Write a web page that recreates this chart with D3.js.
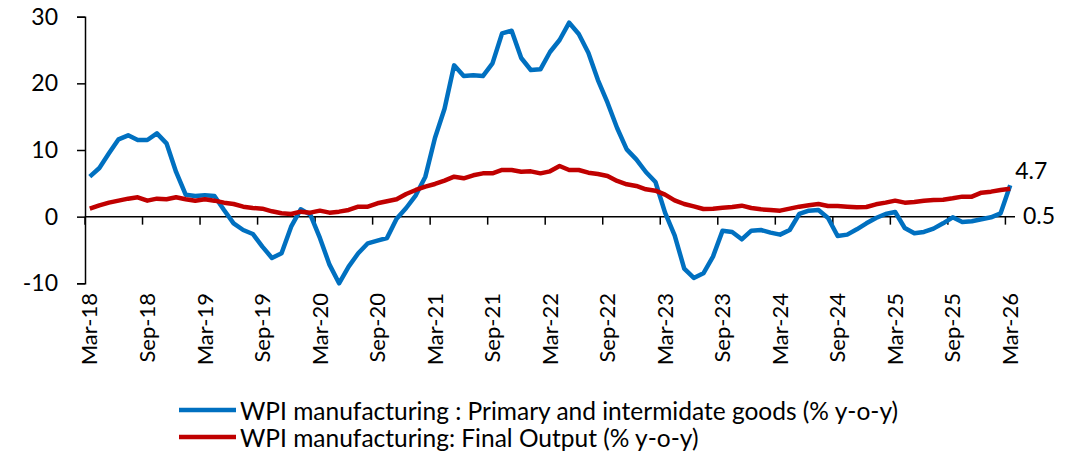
<!DOCTYPE html>
<html>
<head>
<meta charset="utf-8">
<script src="https://cdn.jsdelivr.net/npm/d3@7"></script>
<style>
  body { margin: 0; background: #fff; }
  svg { display: block; font-family: Lato, "Open Sans", sans-serif; }
</style>
</head>
<body>
<svg id="chart" width="1079" height="454"></svg>
<script>
// ---- data ----
const startMonth = new Date(Date.UTC(2018, 2, 1));   // Mar-18
const endMonth = new Date(Date.UTC(2026, 3, 1));     // exclusive -> last Mar-26
const fmt = d3.utcFormat("%b-%y");
const categories = d3.utcMonths(startMonth, endMonth).map(fmt);

const primaryIntermediate = [
  6.0, 7.3, 9.5, 11.6, 12.2, 11.5, 11.5, 12.5, 11.0, 6.7,
  3.3, 3.1, 3.2, 3.1, 1.0, -1.0, -2.0, -2.6, -4.5, -6.2,
  -5.5, -1.5, 1.1, 0.3, -3.2, -7.2, -10.0, -7.5, -5.5, -4.0,
  -3.6, -3.2, -0.3, 1.3, 3.2, 6.0, 11.8, 16.2, 22.7, 21.1,
  21.2, 21.1, 23.0, 27.5, 27.9, 23.8, 22.0, 22.1, 24.7, 26.5,
  29.1, 27.4, 24.6, 20.5, 17.1, 13.3, 10.1, 8.6, 6.7, 5.2,
  0.6, -2.8, -7.8, -9.2, -8.5, -6.0, -2.1, -2.3, -3.4, -2.1,
  -2.0, -2.4, -2.7, -2.0, 0.4, 0.9, 1.0, -0.2, -2.9, -2.7,
  -1.9, -1.0, -0.2, 0.4, 0.7, -1.7, -2.5, -2.3, -1.8, -1.0,
  -0.1, -0.8, -0.7, -0.4, -0.1, 0.5, 4.7
];

const finalOutput = [
  1.2, 1.7, 2.1, 2.4, 2.7, 2.9, 2.4, 2.7, 2.6, 2.9,
  2.6, 2.4, 2.6, 2.4, 2.1, 1.9, 1.5, 1.3, 1.2, 0.8,
  0.5, 0.4, 0.75, 0.6, 0.9, 0.6, 0.75, 1.0, 1.5, 1.5,
  2.0, 2.3, 2.6, 3.4, 4.0, 4.5, 4.9, 5.4, 6.0, 5.75,
  6.2, 6.5, 6.5, 7.0, 7.0, 6.75, 6.8, 6.5, 6.8, 7.6,
  7.0, 7.0, 6.6, 6.4, 6.1, 5.35, 4.85, 4.6, 4.1, 3.9,
  3.3, 2.45, 1.9, 1.55, 1.15, 1.2, 1.35, 1.45, 1.65, 1.3,
  1.1, 1.0, 0.9, 1.2, 1.5, 1.7, 1.9, 1.6, 1.6, 1.5,
  1.4, 1.45, 1.85, 2.1, 2.4, 2.1, 2.2, 2.4, 2.5, 2.55,
  2.75, 3.0, 3.0, 3.6, 3.75, 4.0, 4.2
];

const xTickLabels = ["Mar-18","Sep-18","Mar-19","Sep-19","Mar-20","Sep-20","Mar-21","Sep-21",
  "Mar-22","Sep-22","Mar-23","Sep-23","Mar-24","Sep-24","Mar-25","Sep-25","Mar-26"];
const yTicks = [-10, 0, 10, 20, 30];
const seriesNames = [
  "WPI manufacturing : Primary and intermidate goods (% y-o-y)",
  "WPI manufacturing: Final Output (% y-o-y)"
];
const endLabels = [
  { text: "4.7", value: 4.7 },
  { text: "0.5", value: 0.5 }
];

// ---- layout ----
const svg = d3.select("#chart");
const plot = { left: 85, right: 1015, top: 16.7, bottom: 283.3 };
const colors = ["#0070C0", "#C00000"];

const x = d3.scaleBand().domain(categories).range([plot.left, plot.right]).paddingInner(0).paddingOuter(0);
const bw = x.bandwidth();
const cx = c => x(c) + bw / 2;
const y = d3.scaleLinear().domain([-10, 30]).range([plot.bottom, plot.top]);

// y axis
const yAxis = svg.append("g")
  .attr("transform", `translate(${plot.left},0)`)
  .call(d3.axisLeft(y).tickValues(yTicks).tickSize(8).tickPadding(19).tickFormat(d => String(d)));
yAxis.select(".domain").attr("stroke", "#000").attr("stroke-width", 1.5);
yAxis.selectAll(".tick line").attr("stroke", "#000").attr("stroke-width", 1.5);
yAxis.selectAll(".tick text").attr("font-size", 23).attr("fill", "#000")
  .attr("font-family", "Lato, sans-serif");

// x axis line at zero with ticks at category boundaries every 6 months
const xTickCats = categories.filter((c, i) => i % 6 === 0);
const xAxisG = svg.append("g").attr("transform", `translate(0,${y(0)})`);
xAxisG.call(d3.axisBottom(x).tickValues(xTickCats).tickSize(8).tickFormat(""));
xAxisG.select(".domain").attr("d", `M${plot.left},0H${plot.right}`).attr("stroke", "#000").attr("stroke-width", 1.5);
xAxisG.selectAll(".tick").attr("transform", d => `translate(${x(d)},0)`);
xAxisG.selectAll(".tick line").attr("stroke", "#000").attr("stroke-width", 1.5);

// x labels (low position)
const xLab = svg.append("g").attr("transform", `translate(0,291)`);
xLab.call(d3.axisBottom(x).tickValues(xTickLabels).tickSize(0).tickPadding(0));
xLab.select(".domain").remove();
xLab.selectAll(".tick text")
  .attr("font-size", 22).attr("fill", "#000").attr("font-family", "Lato, sans-serif")
  .attr("transform", "rotate(-90)")
  .attr("text-anchor", "end")
  .attr("x", -2).attr("y", 0).attr("dy", "0.35em");

// lines
const line = d3.line().x((d, i) => cx(categories[i])).y(d => y(d));
[primaryIntermediate, finalOutput].forEach((s, k) => {
  svg.append("path").datum(s)
    .attr("fill", "none").attr("stroke", colors[k]).attr("stroke-width", 4.5)
    .attr("stroke-linejoin", "round").attr("stroke-linecap", "butt")
    .attr("d", line);
});

// end labels
const lastCat = categories[categories.length - 1];
svg.append("text").attr("x", cx(lastCat) + 5).attr("y", y(endLabels[0].value) - 15)
  .attr("font-size", 23).attr("fill", "#000").attr("dominant-baseline", "central")
  .text(endLabels[0].text);
svg.append("text").attr("x", plot.right + 8).attr("y", y(endLabels[1].value) + 2)
  .attr("font-size", 23).attr("fill", "#000").attr("dominant-baseline", "central")
  .text(endLabels[1].text);

// legend
const legend = svg.append("g");
seriesNames.forEach((name, k) => {
  const ly = 410 + k * 27;
  legend.append("line").attr("x1", 179).attr("x2", 236).attr("y1", ly).attr("y2", ly)
    .attr("stroke", colors[k]).attr("stroke-width", 4.5);
  legend.append("text").attr("x", 240).attr("y", ly).attr("dominant-baseline", "central")
    .attr("font-size", 24.5).attr("fill", "#000").text(name);
});
</script>
</body>
</html>
